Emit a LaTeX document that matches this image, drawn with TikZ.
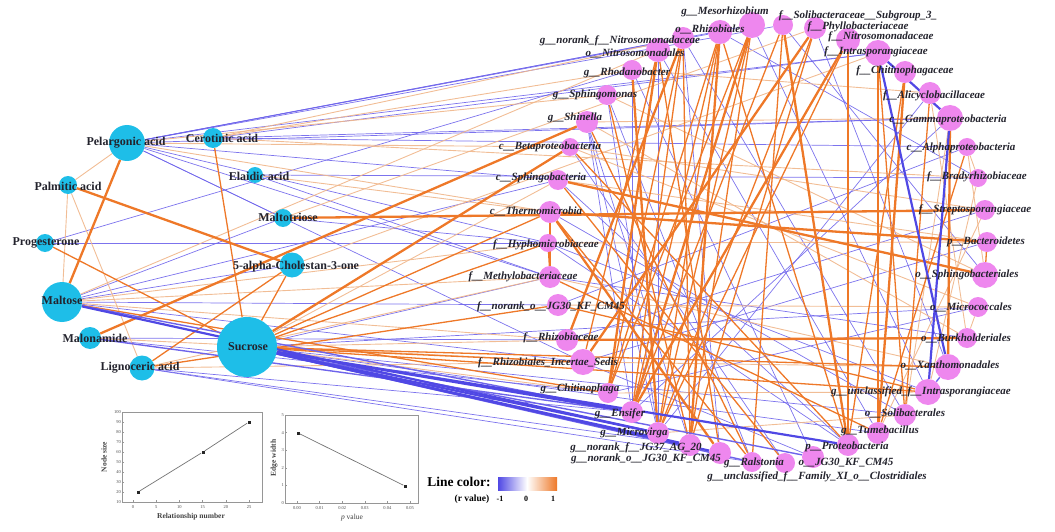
\documentclass[tikz,border=0pt]{standalone}
\usepackage{fontspec}
\setmainfont{Liberation Serif}
\usetikzlibrary{positioning}
\pgfdeclarelayer{bg}
\pgfsetlayers{bg,main}
\definecolor{metabcol}{RGB}{30,190,232}
\definecolor{taxcol}{RGB}{238,135,238}
\definecolor{labcol}{RGB}{35,35,45}
\definecolor{negcol}{RGB}{110,100,235}
\definecolor{negdark}{RGB}{80,72,228}
\definecolor{poscol}{RGB}{238,120,40}
\definecolor{poslight}{RGB}{240,182,138}
\definecolor{framecol}{RGB}{150,150,150}

\begin{document}
\begin{tikzpicture}[x=1pt,y=-1pt,
    metab/.style={circle,fill=metabcol,inner sep=0pt},
    taxon/.style={circle,fill=taxcol,inner sep=0pt},
    mlab/.style={font=\fontsize{12}{12}\selectfont\bfseries,text=labcol,inner sep=0pt},
    tlab/.style={font=\fontsize{11}{11}\selectfont\bfseries\itshape,text=labcol,inner sep=0pt},
    negthin/.style={draw=negcol,line width=0.7pt,opacity=0.9},
    negmid/.style={draw=negcol,line width=1.4pt},
    negthick/.style={draw=negdark,line width=2.2pt},
    posthin/.style={draw=poslight,line width=0.9pt,opacity=0.9},
    posmid/.style={draw=poscol,line width=1.3pt},
    posthick/.style={draw=poscol,line width=2.3pt},
    ticklab/.style={font=\fontsize{4.5}{4.5}\selectfont,text=black!70,inner sep=1pt},
    axlab/.style={font=\fontsize{7.5}{7.5}\selectfont\bfseries,text=black!75,inner sep=0pt},
    datadot/.style={fill=black!85,inner sep=0pt,minimum size=3pt}]

\useasboundingbox (0,0) rectangle (1055,532);

% metabolites
\node[metab,minimum size=36pt] (pel) at (127,143) {};
\node[metab,minimum size=20pt] (cer) at (213,138) {};
\node[metab,minimum size=16pt] (ela) at (255,175) {};
\node[metab,minimum size=18pt] (pal) at (68,185) {};
\node[metab,minimum size=18pt] (mtr) at (283,218) {};
\node[metab,minimum size=18pt] (pro) at (45,243) {};
\node[metab,minimum size=25pt] (cho) at (292,265) {};
\node[metab,minimum size=40pt] (mal) at (62,302) {};
\node[metab,minimum size=22pt] (mln) at (90,338) {};
\node[metab,minimum size=25pt] (lig) at (142,368) {};
\node[metab,minimum size=60pt] (suc) at (247,347) {};

% taxa, top arc
\node[taxon,minimum size=26pt] (mes) at (752,25) {};
\node[taxon,minimum size=24pt] (rhz) at (720,32) {};
\node[taxon,minimum size=22pt] (nrn) at (683,38) {};
\node[taxon,minimum size=24pt] (nsm) at (658,50) {};
\node[taxon,minimum size=20pt] (rho) at (632,70) {};
\node[taxon,minimum size=20pt] (sph) at (607,95) {};
\node[taxon,minimum size=22pt] (shi) at (587,122) {};
\node[taxon,minimum size=18pt] (bet) at (570,147) {};
\node[taxon,minimum size=20pt] (sbc) at (558,180) {};
\node[taxon,minimum size=22pt] (thm) at (550,212) {};
\node[taxon,minimum size=18pt] (hyp) at (548,243) {};
\node[taxon,minimum size=22pt] (mtb) at (550,277) {};
\node[taxon,minimum size=22pt] (fnj) at (558,305) {};
\node[taxon,minimum size=22pt] (rzc) at (567,340) {};
\node[taxon,minimum size=26pt] (ris) at (583,362) {};
\node[taxon,minimum size=20pt] (chi) at (608,393) {};
% taxa, bottom arc
\node[taxon,minimum size=22pt] (ens) at (632,412) {};
\node[taxon,minimum size=22pt] (mic) at (658,433) {};
\node[taxon,minimum size=22pt] (n37) at (690,445) {};
\node[taxon,minimum size=22pt] (n30) at (720,453) {};
\node[taxon,minimum size=20pt] (ral) at (752,462) {};
\node[taxon,minimum size=20pt] (clo) at (785,463) {};
\node[taxon,minimum size=22pt] (jg3) at (813,457) {};
\node[taxon,minimum size=22pt] (prt) at (848,445) {};
\node[taxon,minimum size=22pt] (tum) at (878,433) {};
\node[taxon,minimum size=22pt] (sol) at (905,415) {};
\node[taxon,minimum size=26pt] (uin) at (928,392) {};
% taxa, right arc
\node[taxon,minimum size=26pt] (xan) at (948,367) {};
\node[taxon,minimum size=20pt] (bur) at (967,338) {};
\node[taxon,minimum size=20pt] (mcc) at (978,307) {};
\node[taxon,minimum size=26pt] (sbl) at (985,275) {};
\node[taxon,minimum size=20pt] (bac) at (987,242) {};
\node[taxon,minimum size=20pt] (str) at (985,210) {};
\node[taxon,minimum size=18pt] (bra) at (978,178) {};
\node[taxon,minimum size=18pt] (alp) at (967,147) {};
\node[taxon,minimum size=26pt] (gam) at (950,118) {};
\node[taxon,minimum size=22pt] (alc) at (930,93) {};
\node[taxon,minimum size=22pt] (chf) at (905,72) {};
\node[taxon,minimum size=26pt] (ina) at (878,53) {};
\node[taxon,minimum size=24pt] (nit) at (848,40) {};
\node[taxon,minimum size=22pt] (phy) at (815,28) {};
\node[taxon,minimum size=20pt] (s3) at (783,25) {};

% correlations
\begin{pgfonlayer}{bg}
\foreach \a/\b in {pel/mes,pel/rhz,pel/nrn,pel/s3,pel/gam,pel/sbc,pel/hyp,pel/mtb,pel/ris,pel/mtr,
    cer/gam,cer/alp,ela/mtb,ela/bra,mtr/mal,mtr/hyp,pro/hyp,pro/rho,mal/sbc,mal/fnj,mal/ris,mal/cho,
    mln/rzc,mln/chi,lig/ens,lig/n37,lig/ral,suc/mtb,suc/mcc,suc/tum,suc/sol,shi/n37,shi/mic,shi/ens,
    sph/ral,rho/jg3,bet/clo,sbc/prt,nsm/tum,nrn/sol,s3/sbl,phy/xan,hyp/uin,mtb/bur,fnj/alp,rzc/str,
    ris/bac,chi/mcc,ens/gam,mic/alc,rhz/bra,mes/uin,pel/ina,cer/ina,nsm/mic,nrn/n30,rho/ens,sph/mic,
    thm/sol,hyp/prt,ris/jg3}
  \draw[negthin] (\a) -- (\b);
\foreach \a/\b in {pel/pal,pal/mal,pal/lig,pel/bet,pel/thm,cer/nrn,cer/rho,cer/bra,ela/thm,mal/hyp,
    mal/mtb,mal/rzc,mln/ris,lig/ris,lig/mtb,suc/sbc,suc/rzc,suc/chi,mcc/bur,alp/sbl,alp/bra,alc/bur,
    gam/sol,bra/uin,str/tum,sph/sbl,bet/str,shi/gam,rho/alc,hyp/bac,fnj/mcc,ris/xan,chi/uin,mic/sol,
    cho/ina,mtr/phy,mal/nsm,pel/sph,shi/bur,bet/mcc,sbc/bac,mtb/xan}
  \draw[posthin] (\a) -- (\b);
\foreach \a/\b in {pro/suc,cer/suc,cho/suc,lig/fnj,suc/thm,suc/hyp,suc/ris,suc/uin,suc/xan,mal/chi,
    sph/n37,shi/ral,bet/prt,hyp/mtb,thm/mtb,mes/chi,rhz/mic,nrn/ens,nsm/n30,s3/ral,phy/n37,nit/mic,
    ina/sol,alc/sol,chf/prt,bac/sbl,alp/tum,thm/ral,sbc/clo,mtb/tum,lig/cho,fnj/uin,nrn/chi,rhz/ens,
    mes/mic,nsm/ris,rhz/chi,mes/n37,nit/prt,ina/tum,phy/mic,s3/ens,nrn/n37,rhz/prt}
  \draw[posmid] (\a) -- (\b);
\foreach \a/\b in {pel/mal,pal/cho,mln/shi,mtr/str,sbc/sbl,thm/bac,suc/bet,mes/ens,rhz/n37,nsm/chi,
    s3/prt,phy/ris,nit/ens,nrn/rzc,thm/n30,chf/tum,gam/xan,rho/mic,rzc/bur}
  \draw[posthick] (\a) -- (\b);
\foreach \a/\b in {mal/ens,suc/ral,suc/jg3,xan/uin,mln/ens}
  \draw[negmid] (\a) -- (\b);
\foreach \a/\b in {mal/mic,suc/ens,suc/mic,suc/n37,suc/n30,suc/prt,ina/xan,ina/gam,gam/uin}
  \draw[negthick] (\a) -- (\b);
\end{pgfonlayer}

% metabolite labels
\node[mlab] (pel-l) at (126,143) {Pelargonic acid};
\node[mlab] (cer-l) at (222,138) {Cerotinic acid};
\node[mlab] (ela-l) at (259,176) {Elaidic acid};
\node[mlab] (pal-l) at (68,186) {Palmitic acid};
\node[mlab] (mtr-l) at (288,217) {Maltotriose};
\node[mlab] (pro-l) at (46,243) {Progesterone};
\node[mlab] (cho-l) at (296,267) {5-alpha-Cholestan-3-one};
\node[mlab] (mal-l) at (62,300) {Maltose};
\node[mlab] (mln-l) at (95,338) {Malonamide};
\node[mlab] (lig-l) at (140,368) {Lignoceric acid};
\node[mlab] (suc-l) at (248,347) {Sucrose};

% taxon labels
\node[tlab] (mes-l) at (725,12) {g\_\_Mesorhizobium};
\node[tlab] (rhz-l) at (710,29) {o\_\_Rhizobiales};
\node[tlab] (nrn-l) at (620,41) {g\_\_norank\_f\_\_Nitrosomonadaceae};
\node[tlab] (nsm-l) at (635,53) {o\_\_Nitrosomonadales};
\node[tlab] (rho-l) at (627,73) {g\_\_Rhodanobacter};
\node[tlab] (sph-l) at (595,95) {g\_\_Sphingomonas};
\node[tlab] (shi-l) at (575,118) {g\_\_Shinella};
\node[tlab] (bet-l) at (550,147) {c\_\_Betaproteobacteria};
\node[tlab] (sbc-l) at (541,178) {c\_\_Sphingobacteria};
\node[tlab] (thm-l) at (536,211) {c\_\_Thermomicrobia};
\node[tlab] (hyp-l) at (546,245) {f\_\_Hyphomicrobiaceae};
\node[tlab] (mtb-l) at (523,277) {f\_\_Methylobacteriaceae};
\node[tlab] (fnj-l) at (551,307) {f\_\_norank\_o\_\_JG30\_KF\_CM45};
\node[tlab] (rzc-l) at (561,338) {f\_\_Rhizobiaceae};
\node[tlab] (ris-l) at (548,363) {f\_\_Rhizobiales\_Incertae\_Sedis};
\node[tlab] (chi-l) at (580,389) {g\_\_Chitinophaga};
\node[tlab] (ens-l) at (620,414) {g\_\_Ensifer};
\node[tlab] (mic-l) at (634,433) {g\_\_Microvirga};
\node[tlab] (n37-l) at (636,448) {g\_\_norank\_f\_\_JG37\_AG\_20};
\node[tlab] (n30-l) at (646,459) {g\_\_norank\_o\_\_JG30\_KF\_CM45};
\node[tlab] (ral-l) at (754,463) {g\_\_Ralstonia};
\node[tlab] (clo-l) at (817,477) {g\_\_unclassified\_f\_\_Family\_XI\_o\_\_Clostridiales};
\node[tlab] (jg3-l) at (846,463) {o\_\_JG30\_KF\_CM45};
\node[tlab] (prt-l) at (847,447) {p\_\_Proteobacteria};
\node[tlab] (tum-l) at (880,431) {g\_\_Tumebacillus};
\node[tlab] (sol-l) at (905,413) {o\_\_Solibacterales};
\node[tlab] (uin-l) at (921,392) {g\_\_unclassified\_f\_\_Intrasporangiaceae};
\node[tlab] (xan-l) at (950,365) {o\_\_Xanthomonadales};
\node[tlab] (bur-l) at (966,338) {o\_\_Burkholderiales};
\node[tlab] (mcc-l) at (971,307) {o\_\_Micrococcales};
\node[tlab] (sbl-l) at (967,275) {o\_\_Sphingobacteriales};
\node[tlab] (bac-l) at (986,242) {p\_\_Bacteroidetes};
\node[tlab] (str-l) at (975,210) {f\_\_Streptosporangiaceae};
\node[tlab] (bra-l) at (977,177) {f\_\_Bradyrhizobiaceae};
\node[tlab] (alp-l) at (961,148) {c\_\_Alphaproteobacteria};
\node[tlab] (gam-l) at (948,120) {c\_\_Gammaproteobacteria};
\node[tlab] (alc-l) at (934,96) {f\_\_Alicyclobacillaceae};
\node[tlab] (chf-l) at (905,71) {f\_\_Chitinophagaceae};
\node[tlab] (ina-l) at (876,52) {f\_\_Intrasporangiaceae};
\node[tlab] (nit-l) at (881,37) {f\_\_Nitrosomonadaceae};
\node[tlab] (phy-l) at (858,27) {f\_\_Phyllobacteriaceae};
\node[tlab] (s3-l) at (858,16) {f\_\_Solibacteraceae\_\_Subgroup\_3\_};

% inset: node size
\draw[framecol,line width=0.6pt] (122,412) rectangle (262,502);
\foreach \v in {10,20,...,100} {
  \draw[framecol,line width=0.4pt] (122,{512-\v}) -- ++(2,0);
  \node[ticklab,anchor=east] at (122,{512-\v}) {\v};
}
\foreach \v in {0,5,...,25} {
  \draw[framecol,line width=0.4pt] ({133+4.64*\v},502) -- ++(0,-2);
  \node[ticklab,anchor=north] at ({133+4.64*\v},504) {\v};
}
\node[datadot] (sz1) at (138,492) {};
\node[datadot] (sz2) at (203,452) {};
\node[datadot] (sz3) at (249,422) {};
\draw[black!55,line width=0.7pt] (sz1) -- (sz2) -- (sz3);
\node[axlab,rotate=90] (sz-y) at (104,457) {Node size};
\node[axlab] (sz-x) at (191,517) {Relationship number};

% inset: edge width
\draw[framecol,line width=0.6pt] (285,415) rectangle (418,503);
\foreach \v in {0,...,5} {
  \draw[framecol,line width=0.4pt] (285,{503-17.6*\v}) -- ++(2,0);
  \node[ticklab,anchor=east] at (285,{503-17.6*\v}) {\v};
}
\foreach \i/\t in {0/0.00,1/0.01,2/0.02,3/0.03,4/0.04,5/0.05} {
  \draw[framecol,line width=0.4pt] ({297+22.6*\i},503) -- ++(0,-2);
  \node[ticklab,anchor=north] at ({297+22.6*\i},505) {\t};
}
\node[datadot] (ew1) at (298,433) {};
\node[datadot] (ew2) at (405,486) {};
\draw[black!55,line width=0.7pt] (ew1) -- (ew2);
\node[axlab,rotate=90] (ew-y) at (274,458) {Edge width};
\node[axlab,font=\fontsize{7.5}{7.5}\selectfont] (ew-x) at (352,518) {\textit{p} value};

% colour legend
\node[font=\fontsize{13.5}{13.5}\selectfont\bfseries,inner sep=0pt] (leg) at (459,482) {Line color:};
\shade[left color=negdark,right color=white] (498,477) rectangle (527,490);
\shade[left color=white,right color=poscol] (527,477) rectangle (557,490);
\node[font=\fontsize{9.5}{9.5}\selectfont\bfseries,inner sep=0pt] (leg-r) at (472,499) {(r value)};
\node[font=\fontsize{8}{8}\selectfont\bfseries,inner sep=0pt] (leg-a) at (500,499) {-1};
\node[font=\fontsize{8}{8}\selectfont\bfseries,inner sep=0pt] (leg-b) at (526,499) {0};
\node[font=\fontsize{8}{8}\selectfont\bfseries,inner sep=0pt] (leg-c) at (553,499) {1};
\end{tikzpicture}
\end{document}
